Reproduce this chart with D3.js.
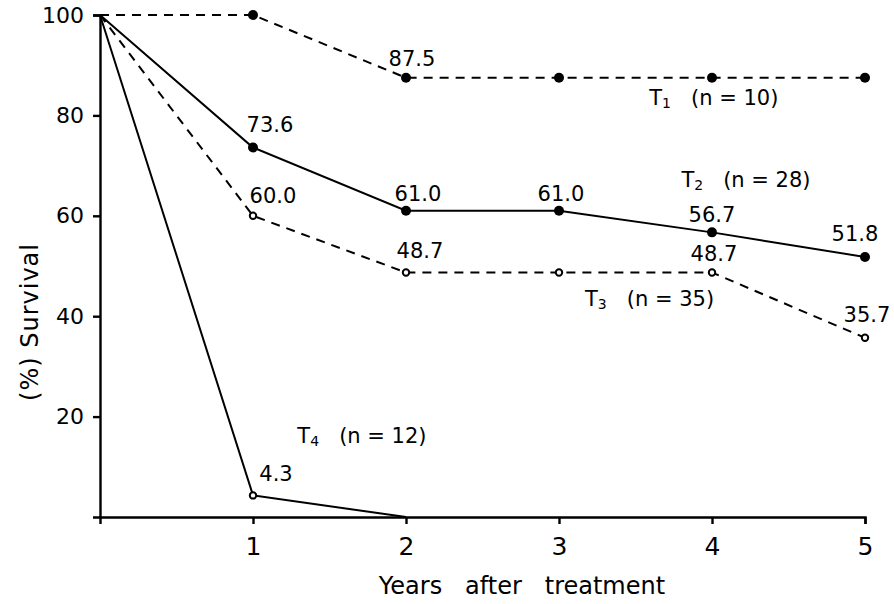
<!DOCTYPE html>
<html>
<head>
<meta charset="utf-8">
<script src="https://cdn.jsdelivr.net/npm/d3@7"></script>
<style>
  body { margin: 0; background: #fff; }
  svg { display: block; font-family: "DejaVu Sans", sans-serif; }
  text { white-space: pre; }
</style>
</head>
<body>
<svg id="chart"></svg>
<script>
// survival (%) by years after treatment
const years = [0, 1, 2, 3, 4, 5];
const t1Values = [100, 100, 87.5, 87.5, 87.5, 87.5];
const t2Values = [100, 73.6, 61.0, 61.0, 56.7, 51.8];
const t3Values = [100, 60.0, 48.7, 48.7, 48.7, 35.7];
const t4Values = [100, 4.3, 0];

const seriesNames = ["1", "2", "3", "4"];
const sampleSizes = [10, 28, 35, 12];

// which points carry a value label
const t1Labeled = [2];
const t2Labeled = [1, 2, 3, 4, 5];
const t3Labeled = [1, 2, 4, 5];
const t4Labeled = [1];

const xTicks = [1, 2, 3, 4, 5];
const yTicks = [20, 40, 60, 80, 100];

const xTitle = "Years   after   treatment";
const yTitle = "(%) Survival";

function getConfig() {
  let width = 894;
  let height = 604;
  let margin = { top: 15, bottom: 87, left: 100, right: 29 };
  let bodyWidth = width - margin.left - margin.right;
  let bodyHeight = height - margin.top - margin.bottom;
  let container = d3.select("#chart")
    .attr("width", width)
    .attr("height", height);
  return { width, height, margin, bodyWidth, bodyHeight, container };
}

function getScales(config) {
  let { bodyWidth, bodyHeight } = config;
  let xScale = d3.scaleLinear().domain([0, 5]).range([0, bodyWidth]);
  let yScale = d3.scaleLinear().domain([0, 100]).range([bodyHeight, 0]);
  return { xScale, yScale };
}

function buildSeries() {
  // style and label placement live here, not in the value arrays
  let styles = [
    { dash: "9,7", open: false, labelAt: [3.59, 82.1] },
    { dash: null, open: false, labelAt: [3.80, 65.7] },
    { dash: "9,7", open: true, labelAt: [3.17, 42.0] },
    { dash: null, open: true, labelAt: [1.29, 14.7] }
  ];
  let offsets = [
    { 2: [6, -12] },
    { 1: [17, -16], 2: [12, -10], 3: [2, -10], 4: [0, -10], 5: [-10, -16] },
    { 1: [20, -13], 2: [14, -15], 4: [2, -12], 5: [2, -16] },
    { 1: [23, -14] }
  ];
  let values = [t1Values, t2Values, t3Values, t4Values];
  let labeled = [t1Labeled, t2Labeled, t3Labeled, t4Labeled];
  return values.map((vals, i) => ({
    name: seriesNames[i],
    n: sampleSizes[i],
    points: vals.map((v, j) => ({ year: years[j], value: v, index: j })),
    labeled: labeled[i],
    offsets: offsets[i],
    ...styles[i]
  }));
}

function drawSeries(series, scales, config) {
  let { margin, container } = config;
  let { xScale, yScale } = scales;

  let body = container.append("g")
    .attr("transform", `translate(${margin.left},${margin.top})`);

  let line = d3.line()
    .x(d => xScale(d.year))
    .y(d => yScale(d.value));

  series.forEach(s => {
    body.append("path")
      .datum(s.points)
      .attr("d", line)
      .attr("fill", "none")
      .attr("stroke", "#000")
      .attr("stroke-width", 2)
      .attr("stroke-dasharray", s.dash);
  });

  series.forEach(s => {
    // no marker at the common origin or where a line hits the axis
    let marked = s.points.filter(d => d.year > 0 && d.value > 0);
    body.selectAll(null)
      .data(marked)
      .enter()
      .append("circle")
      .attr("cx", d => xScale(d.year))
      .attr("cy", d => yScale(d.value))
      .attr("r", s.open ? 3.2 : 5)
      .attr("fill", s.open ? "#fff" : "#000")
      .attr("stroke", "#000")
      .attr("stroke-width", s.open ? 2 : 0);

    body.selectAll(null)
      .data(s.points.filter(d => s.labeled.includes(d.index)))
      .enter()
      .append("text")
      .attr("x", d => xScale(d.year) + s.offsets[d.index][0])
      .attr("y", d => yScale(d.value) + s.offsets[d.index][1])
      .attr("text-anchor", "middle")
      .attr("font-size", 21)
      .text(d => d3.format(".1f")(d.value));

    let lbl = body.append("text")
      .attr("x", xScale(s.labelAt[0]))
      .attr("y", yScale(s.labelAt[1]))
      .attr("font-size", 21);
    lbl.append("tspan").text("T");
    lbl.append("tspan").attr("font-size", 14).attr("dy", 3).text(s.name);
    lbl.append("tspan").attr("dy", -3).text(`   (n = ${s.n})`);
  });
}

function drawAxes(scales, config) {
  let { xScale, yScale } = scales;
  let { container, margin, height, bodyHeight, width } = config;

  let axisX = d3.axisBottom(xScale)
    .tickValues(xTicks)
    .tickSizeOuter(0)
    .tickSize(7)
    .tickPadding(13)
    .tickFormat(d3.format("d"));

  let gX = container.append("g")
    .attr("transform", `translate(${margin.left},${margin.top + bodyHeight})`)
    .call(axisX);
  gX.selectAll("text").attr("font-size", 25).attr("font-family", "DejaVu Sans");

  let axisY = d3.axisLeft(yScale)
    .tickValues(yTicks)
    .tickSizeOuter(0)
    .tickSize(7)
    .tickPadding(9);

  let gY = container.append("g")
    .attr("transform", `translate(${margin.left},${margin.top})`)
    .call(axisY);
  gY.selectAll("text").attr("font-size", 22).attr("font-family", "DejaVu Sans");

  container.selectAll(".domain, .tick line")
    .attr("stroke", "#000")
    .attr("stroke-width", 2.4);

  container.append("text")
    .attr("x", 522)
    .attr("y", 594)
    .attr("text-anchor", "middle")
    .attr("font-size", 24)
    .text(xTitle);

  container.append("text")
    .attr("transform", "translate(38,322) rotate(-90)")
    .attr("text-anchor", "middle")
    .attr("font-size", 24)
    .attr("letter-spacing", 1)
    .text(yTitle);

  return { axisX, axisY, gX, gY };
}

let store = {};
store.config = getConfig();
store.scales = getScales(store.config);
store.series = buildSeries();
drawSeries(store.series, store.scales, store.config);
store.axes = drawAxes(store.scales, store.config);
</script>
</body>
</html>
